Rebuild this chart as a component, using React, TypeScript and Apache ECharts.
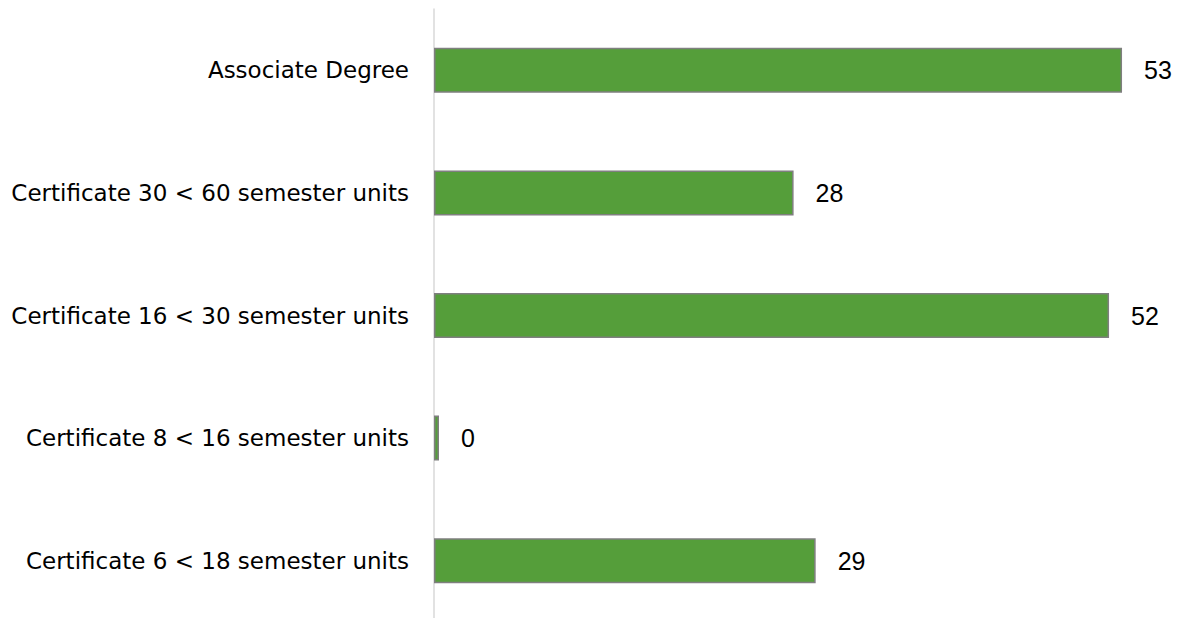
import React, { useEffect, useRef } from "react";
import * as echarts from "echarts";

const categories = [
  "Associate Degree",
  "Certificate 30 < 60 semester units",
  "Certificate 16 < 30 semester units",
  "Certificate 8 < 16 semester units",
  "Certificate 6 < 18 semester units",
];
const values = [53, 27.7, 52, 0, 29.4];

const FONT = "DejaVu Sans";
const NUM_FONT = "Liberation Sans";

export default function App() {
  const ref = useRef<HTMLDivElement>(null);
  useEffect(() => {
    if (!ref.current) return;
    const chart = echarts.init(ref.current, undefined, { renderer: "svg" });
    chart.setOption({
      animation: false,
      backgroundColor: "#ffffff",
      grid: { left: 434, top: 9, width: 714, height: 613, containLabel: false },
      xAxis: {
        type: "value",
        min: 0,
        max: 55,
        show: false,
        splitLine: { show: false },
      },
      yAxis: {
        type: "category",
        data: categories,
        inverse: true,
        axisLine: { show: true, lineStyle: { color: "#d9d9d9", width: 1.5 } },
        axisTick: { show: false },
        axisLabel: {
          margin: 25,
          color: "#000000",
          fontFamily: FONT,
          fontSize: 23,
        },
      },
      series: [
        {
          type: "bar",
          data: values,
          barWidth: 45,
          barMinHeight: 5,
          itemStyle: {
            color: "#559e3a",
            borderColor: "#7f7f7f",
            borderWidth: 1.5,
          },
          label: {
            show: true,
            position: "right",
            distance: 22,
            color: "#000000",
            fontFamily: NUM_FONT,
            fontSize: 25,
            formatter: (p: any) => String(Math.round(p.value)),
          },
        },
      ],
    });
    return () => chart.dispose();
  }, []);
  return (
    <div
      style={{
        position: "absolute",
        left: 0,
        top: 0,
        width: 1184,
        height: 618,
        overflow: "hidden",
        background: "#ffffff",
      }}
    >
      <div ref={ref} style={{ width: 1184, height: 640 }} />
    </div>
  );
}
